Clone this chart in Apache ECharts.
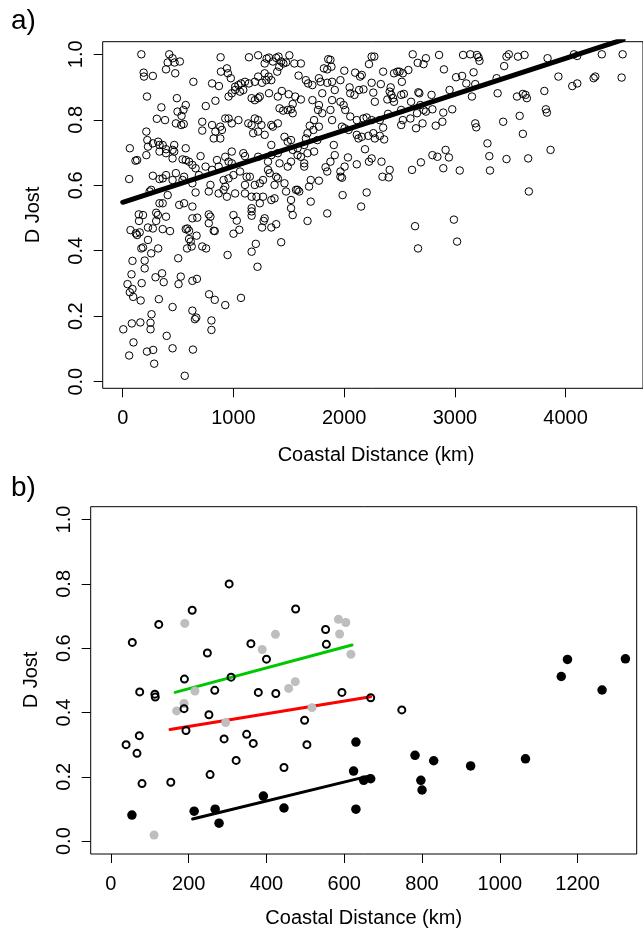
<!DOCTYPE html>
<html><head><meta charset="utf-8">
<script src="https://cdn.jsdelivr.net/npm/echarts@6/dist/echarts.min.js"></script>
<style>html,body{margin:0;padding:0;background:#fff}#c{width:643px;height:932px}</style>
</head><body><div id="c"></div>
<script>
const FONT = 'Liberation Sans, Arial, Helvetica, sans-serif';
// tick values
const xTicksA = [0, 1000, 2000, 3000, 4000];
const xTicksB = [0, 200, 400, 600, 800, 1000, 1200];
const yTicks = [0, 0.2, 0.4, 0.6, 0.8, 1.0];
const xTitle = 'Coastal Distance (km)';
const yTitle = 'D Jost';

// panel a: [coastal distance km, D Jost]
const pointsA = [
[168,1.0],[420,1.0],[450,0.988],[406,0.975],[468,0.975],[516,0.978],[391,0.954],[884,0.991],[1140,0.991],[1223,0.997],[1300,0.987],[1321,0.990],[1386,0.989],[1407,0.993],[1505,0.997],[1475,0.975],[1431,0.978],[1550,0.972],[1609,0.972],[1356,0.978],[1282,0.972],
[189,0.944],[192,0.932],[272,0.934],[474,0.942],[638,0.916],[807,0.911],[869,0.903],[887,0.947],[941,0.957],[950,0.942],[976,0.927],[1015,0.901],[1045,0.906],[1068,0.911],[1104,0.916],[1140,0.911],[1193,0.916],[1223,0.932],[1258,0.913],[1282,0.942],[1318,0.932],[1297,0.921],[1342,0.921],[1395,0.947],[1413,0.962],[1451,0.972],[1588,0.935],[1654,0.921],[1674,0.911],
[219,0.871],[489,0.866],[569,0.845],[548,0.830],[349,0.838],[750,0.842],[837,0.858],[956,0.871],[985,0.881],[1015,0.891],[1059,0.886],[1089,0.891],[1164,0.866],[1193,0.860],[1223,0.866],[1238,0.871],[1321,0.881],[1401,0.871],[1437,0.888],[1499,0.878],[1558,0.871],[1609,0.862],[1535,0.848],[1416,0.835],[1449,0.828],[1490,0.830],[1520,0.832],[1535,0.820],
[308,0.803],[382,0.799],[480,0.789],[531,0.812],[495,0.825],[213,0.764],[222,0.738],[272,0.728],[332,0.723],[361,0.723],[391,0.710],[465,0.723],[450,0.708],[569,0.713],[528,0.784],[551,0.787],[718,0.794],[718,0.767],[807,0.784],[881,0.779],[837,0.764],[896,0.769],[881,0.743],[822,0.743],[926,0.804],[956,0.804],[985,0.789],[1045,0.799],[1134,0.789],[1164,0.784],[1193,0.804],[1223,0.799],[1253,0.784],[1223,0.764],[1178,0.759],[1282,0.754],[1342,0.784],[1356,0.779],[1401,0.789],[1342,0.723],[1461,0.748],[1490,0.733],[1520,0.738],[1535,0.708],[1579,0.713],[1609,0.687],[1639,0.723],[1654,0.743],[1689,0.782],[1728,0.799],[1722,0.769],[1669,0.759],
[64,0.713],[115,0.675],[130,0.677],[228,0.718],[213,0.692],[320,0.733],[332,0.703],[391,0.698],[465,0.703],[450,0.682],[540,0.679],[569,0.677],[599,0.672],[629,0.662],[658,0.652],[703,0.689],[748,0.657],[807,0.647],[851,0.677],[926,0.687],[985,0.703],[956,0.672],[866,0.657],[985,0.667],[1089,0.698],[1104,0.689],[1223,0.687],[1312,0.672],[1342,0.692],[1401,0.698],[1416,0.667],[1490,0.657],[1520,0.672],[1579,0.692],[1639,0.667],[1639,0.657],[1669,0.698],[1728,0.703],
[58,0.619],[272,0.629],[332,0.619],[361,0.621],[391,0.631],[450,0.616],[480,0.637],[540,0.616],[554,0.626],[629,0.606],[688,0.631],[792,0.601],[911,0.616],[926,0.596],[956,0.621],[1000,0.631],[1059,0.642],[1104,0.601],[1119,0.626],[1148,0.626],[1193,0.601],[1238,0.606],[1267,0.616],[1312,0.647],[1327,0.637],[1386,0.626],[1401,0.621],[1461,0.606],[1371,0.601],[1579,0.586],[1683,0.596],[1698,0.616],
[243,0.581],[257,0.586],[332,0.545],[361,0.545],[406,0.570],[510,0.540],[554,0.545],[629,0.535],[658,0.578],[777,0.581],[866,0.575],[911,0.586],[941,0.565],[1015,0.575],[1104,0.575],[1164,0.565],[1164,0.520],[1208,0.565],[1238,0.545],[1267,0.565],[1342,0.555],[1371,0.560],[1475,0.581],[1520,0.555],[1565,0.586],[1594,0.581],[1698,0.550],
[145,0.511],[302,0.516],[317,0.509],[391,0.504],[629,0.499],[777,0.511],[792,0.504],[1000,0.509],[1164,0.530],[1282,0.499],[1520,0.530],[1535,0.509],
[183,0.509],[147,0.491],[302,0.491],[70,0.463],[118,0.453],[130,0.448],[153,0.456],[228,0.471],[272,0.468],[361,0.466],[427,0.460],[569,0.466],[584,0.468],[599,0.461],[673,0.501],[777,0.484],[822,0.461],[831,0.460],[1030,0.492],[1000,0.452],[1053,0.464],[1164,0.507],[1273,0.491],[1258,0.471],[1342,0.471],[1386,0.481],[1669,0.491],[1431,0.426],[1202,0.421],[1164,0.397],[1217,0.351],[947,0.387],[667,0.446],[599,0.436],[614,0.428],[581,0.407],[623,0.413],[718,0.413],[753,0.407],[228,0.433],[183,0.410],[168,0.407],[320,0.407],[257,0.392],[88,0.369],[198,0.370],[198,0.346],[501,0.377],[79,0.328],[43,0.298],[64,0.273],[94,0.259],[88,0.283],[171,0.301],[162,0.248],[296,0.319],[355,0.331],[370,0.304],[504,0.298],[524,0.321],[629,0.308],[670,0.314],[326,0.252],[450,0.228],[780,0.267],[831,0.250],[926,0.234],[1068,0.256],[260,0.206],[251,0.180],[251,0.160],[159,0.181],[82,0.178],[5,0.160],[97,0.120],[58,0.080],[219,0.092],[275,0.097],[284,0.055],[450,0.102],[397,0.140],[629,0.217],[652,0.191],[664,0.196],[801,0.187],[801,0.158],[634,0.098],[560,0.018],
[1856,0.985],[1876,0.983],[1817,0.957],[1847,0.954],[1885,0.962],[1772,0.927],[1787,0.916],[1847,0.913],[1891,0.916],[1966,0.921],[2001,0.950],[2099,0.944],[2159,0.937],[2144,0.932],[2248,0.993],[2272,0.993],[2224,0.970],[2352,0.947],[2450,0.942],[2480,0.947],[2500,0.947],[2530,0.942],[2580,0.952],[2619,1.0],[2664,0.974],[2738,0.988],[2717,0.970],[2857,0.998],[2901,0.954],[3074,0.998],[3139,1.0],[3199,0.998],[3213,0.991],[3222,0.980],[3011,0.930],[3065,0.934],[3103,0.911],[3169,0.945],[3184,0.909],[3445,0.964],[3466,0.993],[3487,1.0],[3570,0.993],[3629,0.998],[3837,0.988],[4075,1.0],[4105,0.995],[4327,1.0],[4515,1.0],[3377,0.927],[3935,0.932],[4060,0.903],[4105,0.911],[4253,0.927],[4268,0.932],[4506,0.929],
[1713,0.906],[1802,0.881],[1915,0.891],[2049,0.899],[2055,0.881],[2093,0.876],[2135,0.891],[2174,0.893],[2248,0.913],[2263,0.883],[2331,0.909],[2420,0.899],[2411,0.886],[2426,0.876],[2441,0.866],[2450,0.855],[2277,0.855],[2390,0.862],[2521,0.916],[2515,0.876],[2539,0.879],[2604,0.855],[2670,0.884],[2679,0.881],[2789,0.876],[2952,0.891],[3154,0.871],[3386,0.881],[3561,0.871],[3614,0.879],[3638,0.876],[3650,0.866],[3808,0.888],[3822,0.832],[3831,0.822],
[1713,0.860],[1772,0.845],[1764,0.830],[1802,0.820],[1891,0.860],[1876,0.830],[1966,0.855],[1995,0.845],[2010,0.830],[2055,0.810],[2114,0.799],[2174,0.804],[2203,0.807],[2248,0.799],[2322,0.799],[2396,0.818],[2515,0.830],[2530,0.799],[2515,0.784],[2598,0.804],[2658,0.820],[2688,0.845],[2717,0.830],[2738,0.825],[2797,0.832],[2895,0.822],[2976,0.832],[2887,0.794],[2827,0.782],[3184,0.789],[3193,0.777],[2649,0.774],[2708,0.789],[3436,0.794],[3585,0.812],[1772,0.779],[1891,0.799],[1980,0.779],[2004,0.774],
[1758,0.738],[1906,0.723],[2040,0.769],[2114,0.754],[2129,0.743],[2159,0.748],[2218,0.751],[2263,0.759],[2277,0.743],[2322,0.751],[2352,0.776],[2361,0.740],[2188,0.710],[2248,0.682],[2224,0.672],[2337,0.672],[2411,0.647],[2402,0.624],[2346,0.626],[3614,0.757],[3294,0.728],[3311,0.689],[3466,0.680],[3662,0.682],[3864,0.708],[2797,0.692],[2842,0.687],[2916,0.708],[2946,0.685],[2895,0.652],[3044,0.645],[3317,0.645],[2613,0.647],[2693,0.670],
[1915,0.692],[1876,0.672],[1832,0.655],[1847,0.642],[2004,0.657],[2034,0.685],[2114,0.664],[1966,0.642],[1966,0.626],[1980,0.623],[1772,0.614],[1986,0.570],[2203,0.578],[2153,0.535],[1847,0.514],[3668,0.581],
[2640,0.475],[2991,0.495],[2667,0.407],[3020,0.428]
];
const fitA = [[0, 0.548], [4520, 1.045]];

// panel b
const openB = [
[55,0.618],[123,0.674],[209,0.718],[304,0.800],[475,0.722],[248,0.585],[360,0.614],[400,0.566],[552,0.658],[554,0.612],
[189,0.504],[309,0.510],[74,0.464],[113,0.457],[114,0.448],[267,0.469],[424,0.459],[594,0.4625],[188,0.412],[252,0.393],
[498,0.376],[39,0.300],[73,0.328],[67,0.273],[193,0.344],[291,0.318],[349,0.332],[366,0.304],[504,0.300],[322,0.251],
[255,0.207],[445,0.229],[80,0.179],[154,0.183],[379,0.4625],[668,0.446],[748,0.408]
];
const greyB = [
[190,0.677],[423,0.643],[389,0.596],[585,0.690],[604,0.680],[588,0.644],[617,0.581],[474,0.496],[457,0.475],[216,0.467],
[169,0.405],[188,0.428],[295,0.369],[517,0.415],[111,0.019]
];
const blackB = [
[54,0.081],[214,0.093],[268,0.0995],[278,0.056],[392,0.140],[445,0.103],[630,0.308],[624,0.218],[630,0.0995],[650,0.189],
[668,0.194],[782,0.267],[797,0.189],[800,0.159],[830,0.250],[925,0.234],[1066,0.256],[1158,0.512],[1174,0.565],[1263,0.470],[1323,0.567]
];
const greenFit = [[165, 0.4625], [620, 0.610]];
const redFit = [[152, 0.347], [668, 0.449]];
const blackFit = [[210, 0.069], [665, 0.203]];

const chart = echarts.init(document.getElementById('c'), null, {renderer: 'canvas'});

function mkX(idx, min, max, ticks) {
  return {
    gridIndex: idx, type: 'value', min: min, max: max,
    axisLine: {show: false, onZero: false}, splitLine: {show: false},
    axisTick: {show: true, inside: false, length: 9, lineStyle: {color: '#000', width: 1}, customValues: ticks},
    axisLabel: {customValues: ticks, fontSize: 20, fontFamily: FONT, color: '#000', margin: 20,
      formatter: function (v) { return String(Math.round(v)); }}
  };
}
function mkY(idx, min, max) {
  return {
    gridIndex: idx, type: 'value', min: min, max: max,
    axisLine: {show: false, onZero: false}, splitLine: {show: false},
    axisTick: {show: true, inside: false, length: 9, lineStyle: {color: '#000', width: 1}, customValues: yTicks},
    axisLabel: {customValues: yTicks, fontSize: 20, fontFamily: FONT, color: '#000', margin: 16, rotate: 90,
      formatter: function (v) { return v.toFixed(1); }}
  };
}
function txt(text, x, y, size, rot) {
  return {type: 'text', x: x, y: y, rotation: rot || 0, silent: true,
    style: {text: text, fontSize: size, fontFamily: FONT, fill: '#000', align: 'center', verticalAlign: 'middle'}};
}

chart.setOption({
  animation: false,
  backgroundColor: '#fff',
  grid: [
    {left: 102.7, top: 41.7, right: -7, height: 346.6, show: true, borderColor: '#000', borderWidth: 1, backgroundColor: 'transparent', containLabel: false},
    {left: 90.7, top: 506.7, width: 546, height: 347.3, show: true, borderColor: '#000', borderWidth: 1, backgroundColor: 'transparent', containLabel: false}
  ],
  xAxis: [mkX(0, -181, 4699, xTicksA), mkX(1, -52, 1352, xTicksB)],
  yAxis: [mkY(0, -0.0202, 1.0385), mkY(1, -0.04, 1.04)],
  graphic: [
    {type: 'text', x: 11, y: 21.5, silent: true, style: {text: 'a)', fontSize: 28, fontFamily: FONT, fill: '#000', align: 'left', verticalAlign: 'middle'}},
    {type: 'text', x: 11, y: 488, silent: true, style: {text: 'b)', fontSize: 28, fontFamily: FONT, fill: '#000', align: 'left', verticalAlign: 'middle'}},
    txt(xTitle, 376, 455, 20),
    txt(yTitle, 33, 215, 20, Math.PI / 2),
    txt(xTitle, 363.7, 918, 20),
    txt(yTitle, 31, 680, 20, Math.PI / 2)
  ],
  series: [
    {type: 'scatter', xAxisIndex: 0, yAxisIndex: 0, data: pointsA, symbol: 'circle', symbolSize: 7.5, silent: true, z: 2,
      itemStyle: {color: 'rgba(0,0,0,0)', borderColor: '#000', borderWidth: 1, opacity: 1}},
    {type: 'line', xAxisIndex: 0, yAxisIndex: 0, data: fitA, symbol: 'none', silent: true, z: 3, clip: true,
      lineStyle: {color: '#000', width: 5, cap: 'round', opacity: 1}},
    {type: 'line', xAxisIndex: 1, yAxisIndex: 1, data: greenFit, symbol: 'none', silent: true, z: 2,
      lineStyle: {color: '#00c800', width: 3, cap: 'round', opacity: 1}},
    {type: 'line', xAxisIndex: 1, yAxisIndex: 1, data: redFit, symbol: 'none', silent: true, z: 2,
      lineStyle: {color: '#ff0000', width: 3, cap: 'round', opacity: 1}},
    {type: 'line', xAxisIndex: 1, yAxisIndex: 1, data: blackFit, symbol: 'none', silent: true, z: 2,
      lineStyle: {color: '#000', width: 3, cap: 'round', opacity: 1}},
    {type: 'scatter', xAxisIndex: 1, yAxisIndex: 1, data: greyB, symbol: 'circle', symbolSize: 9, silent: true, z: 3,
      itemStyle: {color: '#bebebe', opacity: 1}},
    {type: 'scatter', xAxisIndex: 1, yAxisIndex: 1, data: openB, symbol: 'circle', symbolSize: 7, silent: true, z: 3,
      itemStyle: {color: 'rgba(0,0,0,0)', borderColor: '#000', borderWidth: 2, opacity: 1}},
    {type: 'scatter', xAxisIndex: 1, yAxisIndex: 1, data: blackB, symbol: 'circle', symbolSize: 9.5, silent: true, z: 3,
      itemStyle: {color: '#000', opacity: 1}}
  ]
});
</script>
</body></html>
